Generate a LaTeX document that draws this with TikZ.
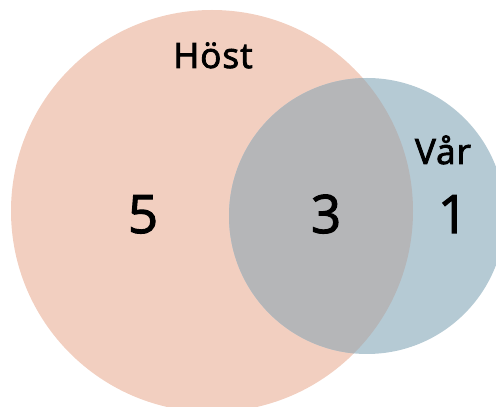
\documentclass[tikz,border=0pt]{standalone}
\usepackage{fontspec}
\setmainfont{Open Sans}
\newfontfamily\namefont{Open Sans}[FakeBold=2.5, LetterSpace=3]
\newfontfamily\countfont{Open Sans}[FakeBold=2]
\begin{document}
\begin{tikzpicture}[x=1pt,y=1pt,
  setlabel/.style={font=\namefont\fontsize{35}{35}\selectfont, anchor=base, inner sep=0pt},
  countlabel/.style={font=\countfont\fontsize{53}{53}\selectfont, anchor=base, inner sep=0pt}]
  \definecolor{hostfill}{HTML}{F2CFC0}
  \definecolor{varfill}{HTML}{B5CAD4}
  \definecolor{bothfill}{HTML}{B5B6B8}
  \useasboundingbox (0,0) rectangle (496,407);
  % the two sets
  \fill[hostfill] (212,196) circle[radius=201];
  \fill[varfill] (367,191) circle[radius=138];
  % their intersection
  \begin{scope}
    \clip (212,196) circle[radius=201];
    \fill[bothfill] (367,191) circle[radius=138];
  \end{scope}
  % set names
  \node[setlabel] (host) at (213,339) {Höst};
  \node[setlabel] (var) at (443,243) {Vår};
  % counts per region
  \node[countlabel] (onlyhost) at (143,174) {5};
  \node[countlabel] (both) at (326,174) {3};
  \node[countlabel] (onlyvar) at (453,174) {1};
\end{tikzpicture}
\end{document}
